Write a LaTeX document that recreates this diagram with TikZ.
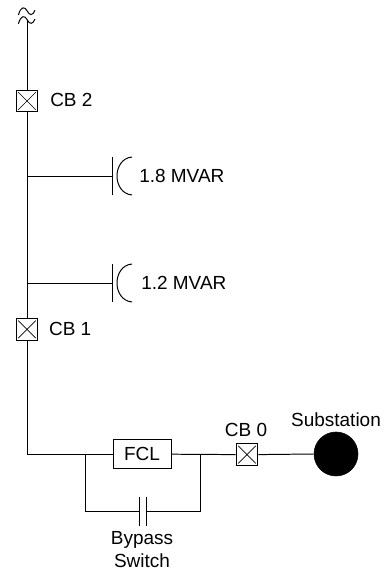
\documentclass[tikz,border=0pt]{standalone}
\usepackage{fontspec}
\setmainfont{Liberation Sans}
\usetikzlibrary{positioning}
\tikzset{
  wire/.style={black,line width=0.7pt},
  lbl/.style={font=\fontsize{13.5}{16.4}\selectfont,text=black,inner sep=0pt},
  breaker/.style={draw=black,line width=0.7pt,fill=white,minimum size=0.54cm,inner sep=0pt,
    path picture={\draw[black,line width=0.5pt] ([shift={(0.05,-0.05)}]path picture bounding box.north west) -- ([shift={(-0.05,0.05)}]path picture bounding box.south east);
      \draw[black,line width=0.5pt] ([shift={(-0.05,-0.05)}]path picture bounding box.north east) -- ([shift={(0.05,0.05)}]path picture bounding box.south west);}},
}
\begin{document}
\begin{tikzpicture}
\useasboundingbox (0,0) rectangle (9.65,14.275);
% source
\draw[wire] (0.46,13.9) .. controls (0.52,14.12) and (0.62,14.12) .. (0.68,14.0) .. controls (0.74,13.88) and (0.82,13.88) .. (0.875,14.02);
\draw[wire] (0.46,13.68) .. controls (0.52,13.9) and (0.62,13.9) .. (0.68,13.78) .. controls (0.74,13.66) and (0.82,13.66) .. (0.875,13.8);
\coordinate (ac) at (0.675,13.78);
% breakers
\node[breaker] (cb2) at (0.675,11.75) {};
\node[breaker] (cb1) at (0.675,6.04) {};
\node[breaker] (cb0) at (6.175,2.91) {};
\node[lbl,anchor=west] (cb2lbl) at (1.25,11.78) {CB 2};
\node[lbl,anchor=west] (cb1lbl) at (1.22,6.06) {CB 1};
\node[lbl,anchor=south] (cb0lbl) at (6.15,3.36) {CB 0};
% limiter and substation
\node[draw=black,line width=0.7pt,minimum width=1.45cm,minimum height=0.725cm,inner sep=0pt,lbl] (fcl) at (3.55,2.92) {FCL};
\node[circle,fill=black,draw=black,minimum size=1.1cm,inner sep=0pt] (sub) at (8.4,2.925) {};
\node[lbl,anchor=south] (sublbl) at (8.4,3.6) {Substation};
% shunt branches
\coordinate (tap18) at (0.675,9.875);
\coordinate (tap12) at (0.675,7.2);
\coordinate (plate18) at (2.8,9.875);
\coordinate (plate12) at (2.8,7.2);
\foreach \p/\y in {plate18/9.875,plate12/7.2}{
  \draw[wire] (2.8,\y+0.475) -- (2.8,\y-0.475);
  \draw[wire] (3.3,\y+0.475) .. controls (2.8,\y+0.43) and (2.8,\y-0.43) .. (3.3,\y-0.475);
}
\node[lbl,anchor=west] (mvar18) at (3.475,9.875) {1.8 MVAR};
\node[lbl,anchor=west] (mvar12) at (3.525,7.2) {1.2 MVAR};
% bypass
\coordinate (byl) at (2.125,2.925);
\coordinate (byr) at (5.0,2.925);
\coordinate (platel) at (3.475,1.5);
\coordinate (plater) at (3.65,1.5);
\draw[wire] (platel)+(0,0.36) -- +(0,-0.365);
\draw[wire] (plater)+(0,0.36) -- +(0,-0.365);
\node[lbl,align=center,anchor=north] (bylbl) at (3.55,1.0) {Bypass\\Switch};
% wires
\draw[wire] (ac) -- (cb2);
\draw[wire] (cb2) -- (cb1);
\draw[wire] (tap18) -- (plate18);
\draw[wire] (tap12) -- (plate12);
\draw[wire] (cb1) |- (fcl.west);
\draw[wire] (fcl.east) -- (cb0.west);
\draw[wire] (cb0.east) -- (sub.west);
\draw[wire] (byl) |- (platel);
\draw[wire] (byr) |- (plater);
\end{tikzpicture}
\end{document}
